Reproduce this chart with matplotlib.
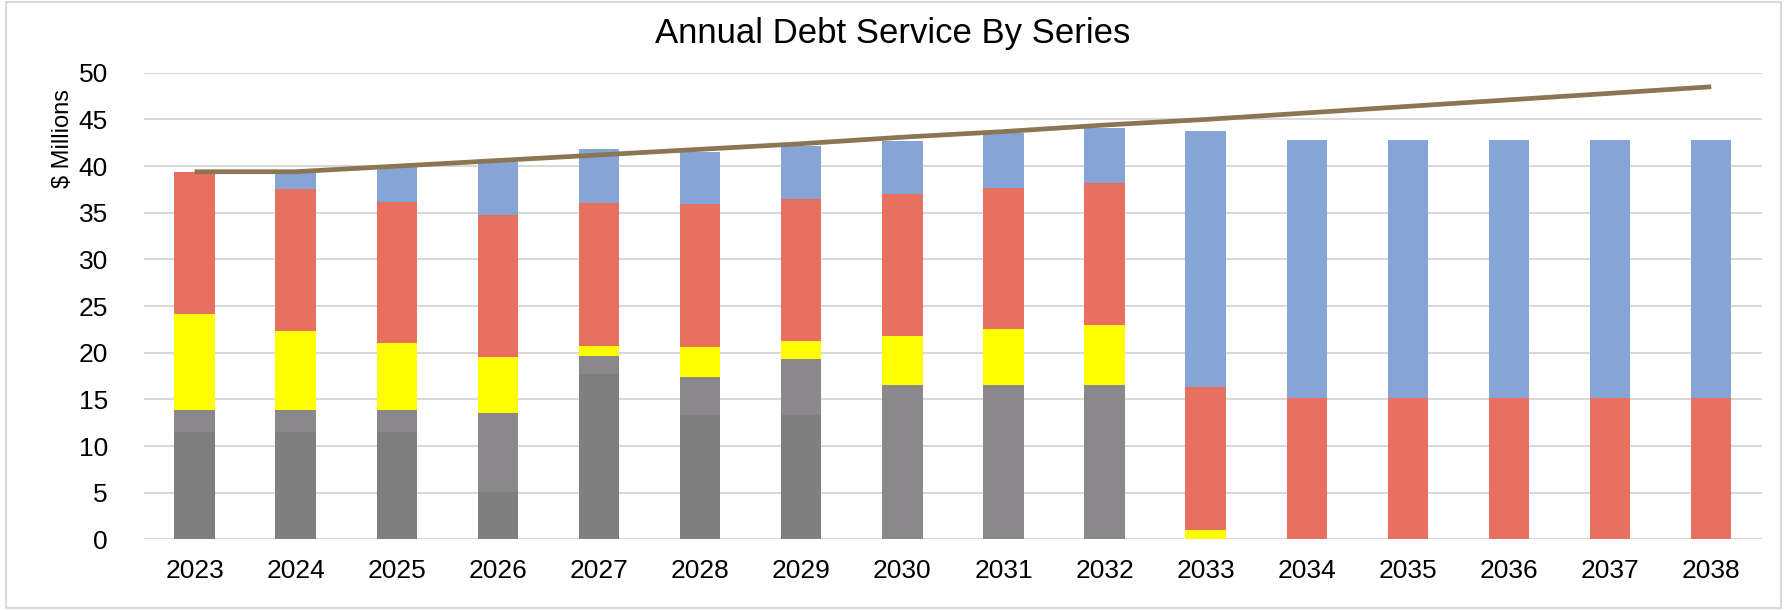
import matplotlib
matplotlib.use("Agg")
import matplotlib.pyplot as plt
import numpy as np
from matplotlib.patches import Rectangle

plt.rcParams['font.family'] = ['Liberation Sans', 'DejaVu Sans']

years = ['2023', '2024', '2025', '2026', '2027', '2028', '2029', '2030',
         '2031', '2032', '2033', '2034', '2035', '2036', '2037', '2038']

series_dark_grey = [11.5, 11.5, 11.5, 5.1, 17.7, 13.3, 13.3, 0, 0, 0, 0, 0, 0, 0, 0, 0]
series_light_grey = [2.4, 2.4, 2.4, 8.4, 2.0, 4.1, 6.0, 16.6, 16.6, 16.6, 0, 0, 0, 0, 0, 0]
series_yellow = [10.3, 8.4, 7.1, 6.1, 1.0, 3.2, 2.0, 5.2, 5.9, 6.4, 1.0, 0, 0, 0, 0, 0]
series_red = [15.2, 15.2, 15.2, 15.2, 15.3, 15.3, 15.2, 15.2, 15.2, 15.2, 15.3, 15.2, 15.2, 15.2, 15.2, 15.2]
series_blue = [0, 1.9, 3.7, 5.6, 5.8, 5.6, 5.7, 5.7, 5.85, 5.85, 27.5, 27.6, 27.6, 27.6, 27.6, 27.6]
coverage_line = [39.4, 39.4, 40.0, 40.6, 41.2, 41.8, 42.4, 43.1, 43.7, 44.4, 45.0, 45.7, 46.4, 47.1, 47.8, 48.5]

fig = plt.figure(figsize=(17.85, 6.1), dpi=100)
ax = fig.add_axes([0.0807, 0.1156, 0.9063, 0.7651])

x = np.arange(len(years))
width = 0.40
stack = [
    (series_dark_grey, '#7f7f7f'),
    (series_light_grey, '#8a888b'),
    (series_yellow, '#ffff00'),
    (series_red, '#e87060'),
    (series_blue, '#86a5d6'),
]
bottom = np.zeros(len(years))
for vals, col in stack:
    v = np.array(vals, dtype=float)
    ax.bar(x, v, width, bottom=bottom, color=col, linewidth=0, zorder=2)
    bottom += v

ax.plot(x, coverage_line, color='#8b7553', lw=3.4, zorder=4, solid_capstyle='butt')

ax.set_xlim(-0.5, len(years) - 0.5)
ax.set_ylim(0, 50)
ax.set_yticks(np.arange(0, 51, 5))
ax.set_xticks(x)
ax.set_xticklabels(years)
ax.tick_params(axis='both', length=0, labelsize=19, colors='black')
ax.tick_params(axis='y', pad=26)
ax.tick_params(axis='x', pad=14)
ax.yaxis.grid(True, color='#d9d9d9', lw=1.5, zorder=0)
ax.set_axisbelow(True)
for s in ax.spines.values():
    s.set_visible(False)

ax.set_ylabel('$ Millions', fontsize=17, labelpad=4)
ax.yaxis.set_label_coords(-0.043, 0.86)

fig.text(0.5, 0.945, 'Annual Debt Service By Series', ha='center', va='center', fontsize=25)

fig.patches.append(Rectangle((0.0034, 0.003), 0.9946, 0.994, transform=fig.transFigure,
                             fill=False, edgecolor='#d9d9d9', lw=1.5))

fig.savefig('out.png', dpi=100)
